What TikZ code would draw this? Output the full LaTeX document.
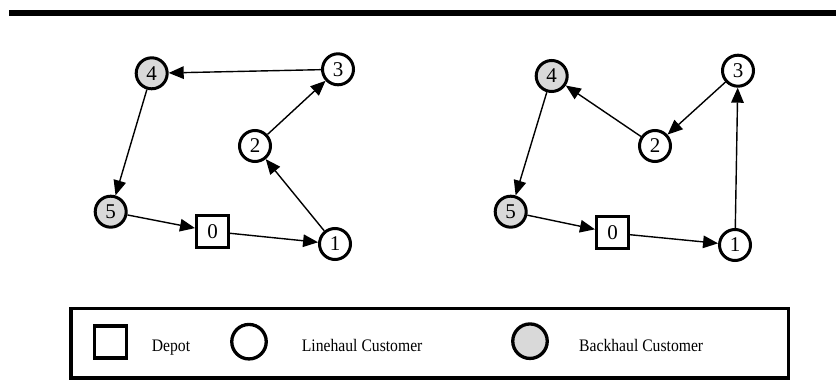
\documentclass[tikz,border=0pt]{standalone}
\usepackage{fontspec}
\setmainfont{Liberation Serif}
\usetikzlibrary{arrows.meta}
\definecolor{backgray}{RGB}{217,217,217}
\newcommand{\legendlabel}[1]{\scalebox{0.89}[1]{#1}}
\tikzset{
  cust/.style={circle, draw, line width=3pt, minimum size=31pt, inner sep=0pt,
               font=\fontsize{21}{23}\selectfont},
  backcust/.style={cust, fill=backgray},
  depot/.style={rectangle, draw, line width=3pt, minimum size=32pt, inner sep=0pt,
                font=\fontsize{21}{23}\selectfont},
  route/.style={line width=1.4pt, -{Triangle[length=15pt,width=12.5pt]}},
  legtext/.style={anchor=base west, inner sep=0pt, font=\fontsize{17.6}{20}\selectfont},
}
\begin{document}
\begin{tikzpicture}[x=1pt,y=-1pt]
\useasboundingbox (0,0) rectangle (836,387);
% header rule
\fill (9,10) rectangle (836,16);

% first route
\node[depot]    (a0) at (212.5,231.5) {0};
\node[cust]     (a1) at (335,244)     {1};
\node[cust]     (a2) at (255,146)     {2};
\node[cust]     (a3) at (338,69.3)    {3};
\node[backcust] (a4) at (151.7,73.3)  {4};
\node[backcust] (a5) at (110.7,211.7) {5};
\draw[route] (a3) -- (a4);
\draw[route] (a4) -- (a5);
\draw[route] (a5) -- (a0);
\draw[route] (a0) -- (a1);
\draw[route] (a1) -- (a2);
\draw[route] (a2) -- (a3);

% second route
\node[depot]    (b0) at (612.5,233)   {0};
\node[cust]     (b1) at (735,245)     {1};
\node[cust]     (b2) at (655,146)     {2};
\node[cust]     (b3) at (738,70.7)    {3};
\node[backcust] (b4) at (551.7,76)    {4};
\node[backcust] (b5) at (510.7,211.7) {5};
\draw[route] (b1) -- (b3);
\draw[route] (b3) -- (b2);
\draw[route] (b2) -- (b4);
\draw[route] (b4) -- (b5);
\draw[route] (b5) -- (b0);
\draw[route] (b0) -- (b1);

% legend
\node[draw, line width=3.3pt, rectangle, inner sep=0pt, minimum width=717.5pt,
      minimum height=69.5pt] (legend) at (429.75,343.25) {};
\node[depot, line width=3.3pt, minimum size=32pt] (ldepot) at (110.3,342) {};
\node[legtext] (tdepot) at (151.7,351.7) {\legendlabel{Depot}};
\node[cust, line width=3.3pt, minimum size=34.5pt] (lline) at (249,341.7) {};
\node[legtext] (tline) at (301.7,351.7) {\legendlabel{Linehaul Customer}};
\node[backcust, line width=3.3pt, minimum size=34.5pt] (lback) at (530,341.2) {};
\node[legtext] (tback) at (579,351.7) {\legendlabel{Backhaul Customer}};
\end{tikzpicture}
\end{document}
